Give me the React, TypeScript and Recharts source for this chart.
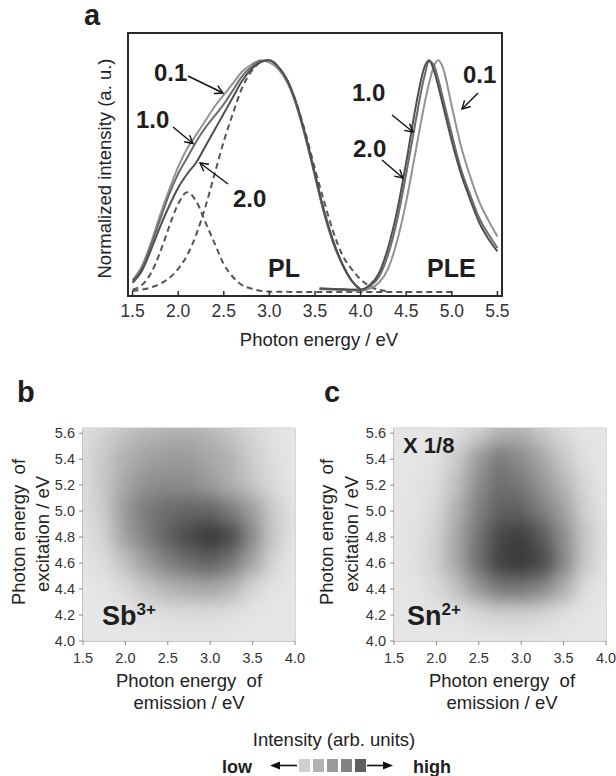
import React from 'react';
import {
  LineChart, Line, XAxis, YAxis, ReferenceArea, ReferenceLine,
  ScatterChart, Scatter, CartesianGrid,
} from 'recharts';

const FONT = '"Liberation Sans", Arial, Helvetica, sans-serif';

// ---------- Panel a : PL / PLE spectra ----------
const plEnergy = [1.5, 1.6, 1.7, 1.8, 1.9, 2.0, 2.1, 2.2, 2.3, 2.4, 2.5, 2.6, 2.7, 2.8, 2.9, 3.0, 3.1, 3.2, 3.3, 3.4, 3.5, 3.6, 3.7, 3.8, 3.9, 4.0];
const pl01 = [0.05, 0.11, 0.21, 0.33, 0.44, 0.54, 0.62, 0.68, 0.74, 0.80, 0.85, 0.90, 0.95, 0.98, 1.0, 0.99, 0.96, 0.90, 0.80, 0.66, 0.50, 0.34, 0.22, 0.12, 0.05, 0.01];
const pl10 = [0.05, 0.10, 0.20, 0.31, 0.42, 0.51, 0.58, 0.65, 0.71, 0.76, 0.81, 0.87, 0.93, 0.97, 0.995, 1.0, 0.97, 0.91, 0.80, 0.66, 0.50, 0.34, 0.21, 0.12, 0.05, 0.01];
const pl20 = [0.04, 0.09, 0.18, 0.28, 0.37, 0.45, 0.51, 0.56, 0.63, 0.70, 0.77, 0.84, 0.91, 0.96, 0.99, 1.0, 0.97, 0.91, 0.81, 0.67, 0.51, 0.35, 0.22, 0.12, 0.05, 0.01];

const pleEnergy = [3.55, 3.7, 3.8, 3.9, 4.0, 4.1, 4.2, 4.3, 4.4, 4.5, 4.6, 4.7, 4.75, 4.8, 4.85, 4.9, 5.0, 5.1, 5.2, 5.3, 5.4, 5.5];
const ple01 = [0.012, 0.01, 0.009, 0.007, 0.005, 0.015, 0.04, 0.10, 0.22, 0.39, 0.60, 0.81, 0.90, 0.97, 1.0, 0.97, 0.80, 0.63, 0.50, 0.39, 0.31, 0.24];
const ple10 = [0.015, 0.013, 0.012, 0.01, 0.01, 0.025, 0.065, 0.16, 0.31, 0.51, 0.73, 0.93, 0.995, 0.98, 0.92, 0.84, 0.68, 0.53, 0.42, 0.32, 0.25, 0.19];
const ple20 = [0.015, 0.013, 0.012, 0.01, 0.01, 0.03, 0.08, 0.19, 0.35, 0.56, 0.79, 0.97, 1.0, 0.96, 0.89, 0.81, 0.65, 0.51, 0.40, 0.30, 0.23, 0.175];

const fitLowEnergy = [1.5, 1.6, 1.7, 1.8, 1.9, 2.0, 2.1, 2.2, 2.3, 2.4, 2.5, 2.6, 2.7, 2.8, 2.9, 3.0, 3.5, 4.0, 4.5, 5.0];
const fitLow = [0.01, 0.03, 0.08, 0.17, 0.28, 0.38, 0.43, 0.39, 0.30, 0.21, 0.12, 0.065, 0.03, 0.015, 0.006, 0.002, 0, 0, 0, 0];
const fitHighEnergy = [1.5, 1.6, 1.7, 1.8, 1.9, 2.0, 2.1, 2.2, 2.3, 2.4, 2.5, 2.6, 2.7, 2.8, 2.9, 3.0, 3.1, 3.2, 3.3, 3.4, 3.5, 3.6, 3.7, 3.8, 3.9, 4.0, 4.1, 4.2, 4.3];
const fitHigh = [0.005, 0.01, 0.02, 0.035, 0.06, 0.10, 0.16, 0.25, 0.37, 0.51, 0.65, 0.77, 0.88, 0.95, 0.99, 1.0, 0.97, 0.91, 0.81, 0.68, 0.53, 0.39, 0.26, 0.16, 0.10, 0.055, 0.025, 0.01, 0.004];

const ticksA = [1.5, 2.0, 2.5, 3.0, 3.5, 4.0, 4.5, 5.0, 5.5];

// ---------- Panels b, c : excitation-emission maps ----------
const heatEmission = [1.5, 1.75, 2.0, 2.25, 2.5, 2.75, 3.0, 3.25, 3.5, 3.75, 4.0];
const heatExcitation = [5.6, 5.4, 5.2, 5.0, 4.8, 4.6, 4.4, 4.2, 4.0];
const sbRows = [
  [0.04, 0.12, 0.22, 0.28, 0.32, 0.33, 0.28, 0.20, 0.10, 0.03, 0.0],
  [0.06, 0.17, 0.31, 0.39, 0.43, 0.43, 0.37, 0.29, 0.15, 0.04, 0.0],
  [0.06, 0.18, 0.37, 0.49, 0.53, 0.52, 0.43, 0.32, 0.19, 0.07, 0.0],
  [0.05, 0.15, 0.45, 0.62, 0.70, 0.74, 0.74, 0.61, 0.42, 0.16, 0.02],
  [0.03, 0.11, 0.39, 0.58, 0.76, 0.90, 1.0, 0.90, 0.53, 0.17, 0.02],
  [0.01, 0.05, 0.21, 0.42, 0.58, 0.69, 0.76, 0.63, 0.37, 0.10, 0.0],
  [0.0, 0.01, 0.07, 0.18, 0.28, 0.34, 0.36, 0.29, 0.10, 0.02, 0.0],
  [0.0, 0.0, 0.01, 0.03, 0.05, 0.06, 0.06, 0.04, 0.01, 0.0, 0.0],
  [0.0, 0.0, 0.0, 0.0, 0.0, 0.0, 0.0, 0.0, 0.0, 0.0, 0.0],
];
const snRows = [
  [0.0, 0.0, 0.0, 0.05, 0.15, 0.30, 0.32, 0.19, 0.08, 0.01, 0.0],
  [0.0, 0.0, 0.03, 0.16, 0.42, 0.63, 0.52, 0.36, 0.18, 0.04, 0.0],
  [0.0, 0.01, 0.05, 0.23, 0.52, 0.69, 0.63, 0.47, 0.29, 0.09, 0.0],
  [0.0, 0.02, 0.08, 0.31, 0.58, 0.77, 0.77, 0.60, 0.41, 0.13, 0.01],
  [0.0, 0.03, 0.12, 0.37, 0.66, 0.91, 0.97, 0.81, 0.52, 0.20, 0.02],
  [0.0, 0.03, 0.13, 0.37, 0.68, 0.95, 1.0, 0.91, 0.57, 0.17, 0.02],
  [0.0, 0.01, 0.07, 0.22, 0.45, 0.62, 0.64, 0.54, 0.33, 0.06, 0.0],
  [0.0, 0.0, 0.01, 0.03, 0.08, 0.12, 0.13, 0.09, 0.04, 0.0, 0.0],
  [0.0, 0.0, 0.0, 0.0, 0.0, 0.0, 0.0, 0.0, 0.0, 0.0, 0.0],
];
const heatXTicks = [1.5, 2.0, 2.5, 3.0, 3.5, 4.0];
const heatYTicks = [4.0, 4.2, 4.4, 4.6, 4.8, 5.0, 5.2, 5.4, 5.6];

const legendShades = ['#cfcfcf', '#b3b3b3', '#9b9b9b', '#838383', '#5f5f5f'];

// ---------- helpers ----------
const pts = (xs: number[], ys: number[]) => xs.map((x, i) => ({ x, y: ys[i] }));
const fmt1 = (v: number) => Number(v).toFixed(1);

const A_DOMAIN_X: [number, number] = [1.45, 5.55];
const A_DOMAIN_Y: [number, number] = [-0.017, 1.117];

const HEAT_W = 212;
const HEAT_H = 213;
const HEAT_LEFT = 83;
const HEAT_TOP = 28;
const HX: [number, number] = [1.5, 4.0];
const HY: [number, number] = [4.0, 5.64];

const gray = (v: number) => {
  const g = Math.round(230 - 174 * Math.max(0, Math.min(1, v)));
  return `rgb(${g},${g},${g})`;
};

const TickA = (props: any) => {
  const { x, y, payload } = props;
  return (
    <g>
      <line x1={x} x2={x} y1={y} y2={y - 5} stroke="#2b2b2b" strokeWidth={1.5} />
      <text x={x} y={y + 21} textAnchor="middle" fontSize={17.5} fill="#333" fontFamily={FONT}>
        {fmt1(payload.value)}
      </text>
    </g>
  );
};

function PanelA() {
  return (
    <LineChart width={616} height={340} margin={{ top: 33, right: 114, bottom: 14, left: 128 }}>
      <XAxis
        dataKey="x" type="number" domain={A_DOMAIN_X} ticks={ticksA} interval={0}
        tick={<TickA />} tickLine={false} axisLine={false} tickSize={0} tickMargin={0} height={30}
        allowDataOverflow
      />
      <YAxis type="number" domain={A_DOMAIN_Y} hide allowDataOverflow />
      <Line data={pts(fitLowEnergy, fitLow)} dataKey="y" type="monotone" stroke="#555" strokeWidth={2}
        strokeDasharray="6 4" dot={false} isAnimationActive={false} />
      <Line data={pts(fitHighEnergy, fitHigh)} dataKey="y" type="monotone" stroke="#555" strokeWidth={2}
        strokeDasharray="6 4" dot={false} isAnimationActive={false} />
      <Line data={pts(plEnergy, pl01)} dataKey="y" type="monotone" stroke="#939393" strokeWidth={2}
        dot={false} isAnimationActive={false} />
      <Line data={pts(plEnergy, pl10)} dataKey="y" type="monotone" stroke="#6c6c6c" strokeWidth={2}
        dot={false} isAnimationActive={false} />
      <Line data={pts(plEnergy, pl20)} dataKey="y" type="monotone" stroke="#4f4f4f" strokeWidth={2}
        dot={false} isAnimationActive={false} />
      <Line data={pts(pleEnergy, ple01)} dataKey="y" type="monotone" stroke="#939393" strokeWidth={2}
        dot={false} isAnimationActive={false} />
      <Line data={pts(pleEnergy, ple10)} dataKey="y" type="monotone" stroke="#6c6c6c" strokeWidth={2}
        dot={false} isAnimationActive={false} />
      <Line data={pts(pleEnergy, ple20)} dataKey="y" type="monotone" stroke="#4f4f4f" strokeWidth={2}
        dot={false} isAnimationActive={false} />
      <ReferenceArea x1={A_DOMAIN_X[0]} x2={A_DOMAIN_X[1]} y1={A_DOMAIN_Y[0]} y2={A_DOMAIN_Y[1]}
        fill="none" fillOpacity={0} stroke="#2b2b2b" strokeWidth={2} ifOverflow="visible" />
    </LineChart>
  );
}

function HeatPanel({ rows, width, right }: { rows: number[][]; width: number; right: number }) {
  const cells: { x: number; y: number; v: number }[] = [];
  heatExcitation.forEach((yv, r) => heatEmission.forEach((xv, c) => cells.push({ x: xv, y: yv, v: rows[r][c] })));
  const stepX = heatEmission[1] - heatEmission[0];
  const stepY = heatExcitation[0] - heatExcitation[1];
  const cw = (stepX / (HX[1] - HX[0])) * HEAT_W;
  const ch = (stepY / (HY[1] - HY[0])) * HEAT_H;
  const shape = (p: any) => (
    <rect x={p.cx - cw / 2 - 0.6} y={p.cy - ch / 2 - 0.6} width={cw + 1.2} height={ch + 1.2}
      fill={gray(p.payload.v)} stroke="none" />
  );
  return (
    <ScatterChart width={width} height={280} margin={{ top: HEAT_TOP, right, bottom: 9, left: HEAT_LEFT - 40 }}>
      <CartesianGrid fill="#e6e6e6" horizontal={false} vertical={false} stroke="none" />
      <XAxis dataKey="x" type="number" domain={HX} ticks={heatXTicks} interval={0} tickFormatter={fmt1}
        tick={{ fontSize: 14.5, fill: '#333', fontFamily: FONT }} tickSize={4} tickMargin={8} height={30}
        stroke="#8a8a8a" />
      <YAxis dataKey="y" type="number" domain={HY} ticks={heatYTicks} interval={0} tickFormatter={fmt1}
        tick={{ fontSize: 14.5, fill: '#333', fontFamily: FONT }} tickSize={4} tickMargin={4} width={40}
        stroke="#8a8a8a" />
      <Scatter data={cells} shape={shape} isAnimationActive={false} className="heat-cells" />
      <ReferenceLine y={HY[1]} stroke="#c2c2c2" strokeWidth={1} ifOverflow="visible" />
      <ReferenceLine x={HX[1]} stroke="#b0b0b0" strokeWidth={1} ifOverflow="visible" />
    </ScatterChart>
  );
}

function Arrow({ x1, y1, x2, y2 }: { x1: number; y1: number; x2: number; y2: number }) {
  const a = Math.atan2(y2 - y1, x2 - x1);
  const L = 9;
  const s = 0.5;
  const p1 = [x2 - L * Math.cos(a - s), y2 - L * Math.sin(a - s)];
  const p2 = [x2 - L * Math.cos(a + s), y2 - L * Math.sin(a + s)];
  return (
    <g stroke="#111" strokeWidth={1.4} fill="none">
      <line x1={x1} y1={y1} x2={x2} y2={y2} />
      <polyline points={`${p1[0]},${p1[1]} ${x2},${y2} ${p2[0]},${p2[1]}`} />
    </g>
  );
}

const boldLabel = { fontFamily: FONT, fontWeight: 700, fill: '#1e1e1e' } as const;
const plain = { fontFamily: FONT, fill: '#222' } as const;
const pre = { whiteSpace: 'pre' } as const;

function Overlay() {
  return (
    <svg width={616} height={776} style={{ position: 'absolute', left: 0, top: 0, pointerEvents: 'none' }}>
      {/* panel letters */}
      <text x={84} y={25} fontSize={29} {...boldLabel}>a</text>
      <text x={17} y={402} fontSize={29} {...boldLabel}>b</text>
      <text x={324} y={402} fontSize={29} {...boldLabel}>c</text>

      {/* panel a titles */}
      <text transform="translate(111,168.5) rotate(-90)" textAnchor="middle" fontSize={18.5} {...plain}>
        Normalized intensity (a. u.)
      </text>
      <text x={319} y={346} textAnchor="middle" fontSize={18.5} {...plain}>Photon energy / eV</text>

      {/* panel a annotations */}
      <text x={154} y={81} fontSize={24} {...boldLabel}>0.1</text>
      <text x={136} y={128} fontSize={24} {...boldLabel}>1.0</text>
      <text x={233} y={207} fontSize={24} {...boldLabel}>2.0</text>
      <text x={352} y={101} fontSize={24} {...boldLabel}>1.0</text>
      <text x={353} y={157} fontSize={24} {...boldLabel}>2.0</text>
      <text x={463} y={83} fontSize={24} {...boldLabel}>0.1</text>
      <text x={268} y={277} fontSize={25} {...boldLabel}>PL</text>
      <text x={427} y={277} fontSize={25} {...boldLabel}>PLE</text>
      <Arrow x1={188} y1={76} x2={223} y2={93} />
      <Arrow x1={173} y1={127} x2={193} y2={143.5} />
      <Arrow x1={228} y1={184} x2={200} y2={163} />
      <Arrow x1={392} y1={115} x2={413} y2={132} />
      <Arrow x1={382} y1={160} x2={403} y2={178} />
      <Arrow x1={478} y1={93} x2={462} y2={109} />

      {/* panel b titles */}
      <text transform="translate(24.5,532) rotate(-90)" textAnchor="middle" fontSize={18.5} {...plain} xmlSpace="preserve" style={pre}>
        {'Photon energy  of'}
      </text>
      <text transform="translate(49,534) rotate(-90)" textAnchor="middle" fontSize={18.5} {...plain}>
        excitation / eV
      </text>
      <text x={189} y={687} textAnchor="middle" fontSize={18.5} {...plain} xmlSpace="preserve" style={pre}>{'Photon energy  of'}</text>
      <text x={189} y={709} textAnchor="middle" fontSize={18.5} {...plain}>emission / eV</text>

      {/* panel c titles */}
      <text transform="translate(333,532) rotate(-90)" textAnchor="middle" fontSize={18.5} {...plain} xmlSpace="preserve" style={pre}>
        {'Photon energy  of'}
      </text>
      <text transform="translate(358,534) rotate(-90)" textAnchor="middle" fontSize={18.5} {...plain}>
        excitation / eV
      </text>
      <text x={502} y={687} textAnchor="middle" fontSize={18.5} {...plain} xmlSpace="preserve" style={pre}>{'Photon energy  of'}</text>
      <text x={502} y={709} textAnchor="middle" fontSize={18.5} {...plain}>emission / eV</text>

      {/* in-map labels */}
      <text x={102} y={625} fontSize={27} {...boldLabel}>
        Sb<tspan fontSize={17} dy={-10}>3+</tspan>
      </text>
      <text x={407} y={625} fontSize={27} {...boldLabel}>
        Sn<tspan fontSize={17} dy={-10}>2+</tspan>
      </text>
      <text x={403} y={453} fontSize={22} {...boldLabel}>X 1/8</text>

      {/* legend */}
      <text x={334} y={746} textAnchor="middle" fontSize={18.5} {...plain}>Intensity (arb. units)</text>
      <text x={222} y={773} fontSize={18} {...boldLabel}>low</text>
      <text x={413} y={773} fontSize={18} {...boldLabel}>high</text>
      <line x1={278} y1={765.5} x2={297} y2={765.5} stroke="#111" strokeWidth={1.6} />
      <polygon points="270,765.5 280,761.5 280,769.5" fill="#111" />
      <line x1={367} y1={765.5} x2={385} y2={765.5} stroke="#111" strokeWidth={1.6} />
      <polygon points="393,765.5 383,761.5 383,769.5" fill="#111" />
      {legendShades.map((c, i) => (
        <rect key={c} x={299 + i * 14} y={759} width={11} height={13} fill={c} />
      ))}
    </svg>
  );
}

export default function App() {
  return (
    <div style={{ position: 'relative', width: 616, height: 776, background: '#fff', fontFamily: FONT, overflow: 'hidden' }}>
      <style>{`
        body { margin: 0; }
        .heatwrap .recharts-scatter { filter: url(#heatBlur); clip-path: url(#heatClip); }
      `}</style>
      <svg width={0} height={0} style={{ position: 'absolute' }}>
        <defs>
          <filter id="heatBlur" x="-20%" y="-20%" width="140%" height="140%" colorInterpolationFilters="sRGB">
            <feGaussianBlur stdDeviation="8 9" />
          </filter>
          <clipPath id="heatClip" clipPathUnits="userSpaceOnUse">
            <rect x={HEAT_LEFT} y={HEAT_TOP} width={HEAT_W} height={HEAT_H} />
          </clipPath>
        </defs>
      </svg>
      <div style={{ position: 'absolute', left: 0, top: 0 }}>
        <PanelA />
      </div>
      <div className="heatwrap" style={{ position: 'absolute', left: 0, top: 400 }}>
        <HeatPanel rows={sbRows} width={310} right={15} />
      </div>
      <div className="heatwrap" style={{ position: 'absolute', left: 311, top: 400 }}>
        <HeatPanel rows={snRows} width={305} right={10} />
      </div>
      <Overlay />
    </div>
  );
}
